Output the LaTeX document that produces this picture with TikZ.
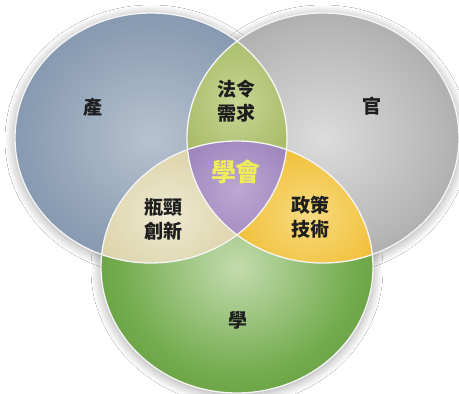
\documentclass[tikz,border=0pt]{standalone}
\usepackage{fontspec}
\newfontfamily\cjk{Noto Sans CJK TC}
\usetikzlibrary{shadows.blur}
\definecolor{lcA}{HTML}{B6C2CF}\definecolor{lcB}{HTML}{8C9EB4}\definecolor{lcC}{HTML}{677C98}
\definecolor{rcA}{HTML}{DCDCDC}\definecolor{rcB}{HTML}{B6B6B6}\definecolor{rcC}{HTML}{858585}
\definecolor{bcA}{HTML}{C2DCAD}\definecolor{bcB}{HTML}{72AA4C}\definecolor{bcC}{HTML}{4A8628}
\definecolor{tcA}{HTML}{C8D594}\definecolor{tcB}{HTML}{A6BA66}\definecolor{tcC}{HTML}{7F9A3C}
\definecolor{ycA}{HTML}{EEE9D2}\definecolor{ycB}{HTML}{DCD3A9}\definecolor{ycC}{HTML}{B7AB78}
\definecolor{ocA}{HTML}{F8DA80}\definecolor{ocB}{HTML}{F0BF36}\definecolor{ocC}{HTML}{D69810}
\definecolor{pcA}{HTML}{BCA8D2}\definecolor{pcB}{HTML}{A088BE}\definecolor{pcC}{HTML}{7A629C}
\definecolor{txt}{HTML}{1E1E1E}
\definecolor{gold}{HTML}{F0EC5A}
\pgfdeclareradialshading{lsh}{\pgfpoint{0bp}{0bp}}{color(0bp)=(lcA); color(22bp)=(lcB); color(46bp)=(lcC); color(50bp)=(lcC)}
\pgfdeclareradialshading{rsh}{\pgfpoint{0bp}{0bp}}{color(0bp)=(rcA); color(22bp)=(rcB); color(46bp)=(rcC); color(50bp)=(rcC)}
\pgfdeclareradialshading{bsh}{\pgfpoint{0bp}{0bp}}{color(0bp)=(bcA); color(22bp)=(bcB); color(46bp)=(bcC); color(50bp)=(bcC)}
\pgfdeclareradialshading{tsh}{\pgfpoint{0bp}{0bp}}{color(0bp)=(tcA); color(25bp)=(tcB); color(50bp)=(tcC)}
\pgfdeclareradialshading{ysh}{\pgfpoint{0bp}{0bp}}{color(0bp)=(ycA); color(25bp)=(ycB); color(50bp)=(ycC)}
\pgfdeclareradialshading{osh}{\pgfpoint{0bp}{0bp}}{color(0bp)=(ocA); color(25bp)=(ocB); color(50bp)=(ocC)}
\pgfdeclareradialshading{psh}{\pgfpoint{0bp}{0bp}}{color(0bp)=(pcA); color(25bp)=(pcB); color(50bp)=(pcC)}
\tikzset{
  lbl/.style={font=\cjk\bfseries\fontsize{19}{24}\selectfont, text=txt, align=center, inner sep=0pt},
  rim/.style={draw=white!92!gray, line width=1.3pt},
  shad/.style={blur shadow={shadow blur radius=10pt, shadow xshift=0pt, shadow yshift=-2pt, shadow opacity=38, shadow blur steps=10}}
}
\def\Lell{(151,138) ellipse [x radius=136pt, y radius=125pt]}
\def\Rell{(323,138) ellipse [x radius=136pt, y radius=125pt]}
\def\Bell{(237,267) ellipse [x radius=136pt, y radius=126pt]}
\begin{document}
\begin{tikzpicture}[x=1pt,y=-1pt]
\useasboundingbox (0,0) rectangle (459,394);
\fill[white] (0,0) rectangle (459,394);
% shadows
\fill[white, shad] \Lell;
\fill[white, shad] \Rell;
\fill[white, shad] \Bell;
% base ellipses
\shade[shading=lsh] \Lell;
\shade[shading=rsh] \Rell;
\shade[shading=bsh] \Bell;
% top lens
\begin{scope}
  \clip \Lell; \clip \Rell;
  \shade[shading=tsh] (172,30) rectangle (302,175);
\end{scope}
% left lens
\begin{scope}
  \clip \Lell; \clip \Bell;
  \shade[shading=ysh] (88,145) rectangle (245,285);
\end{scope}
% right lens
\begin{scope}
  \clip \Rell; \clip \Bell;
  \shade[shading=osh] (230,145) rectangle (387,285);
\end{scope}
% centre
\begin{scope}
  \clip \Lell; \clip \Rell; \clip \Bell;
  \shade[shading=psh] (180,135) rectangle (295,245);
\end{scope}
% rims
\draw[rim] \Lell;
\draw[rim] \Rell;
\draw[rim] \Bell;
% labels
\node[lbl] (chan) at (93,107) {產};
\node[lbl] (guan) at (372,106) {官};
\node[lbl] (xue) at (238,320) {學};
\node[lbl] (fa) at (236,101) {法令\\需求};
\node[lbl] (ping) at (163,219) {瓶頸\\創新};
\node[lbl] (zheng) at (310,217) {政策\\技術};
\node[lbl, text=gold, font=\cjk\bfseries\fontsize{25}{28}\selectfont] (hui) at (236,172) {學會};
\end{tikzpicture}
\end{document}
